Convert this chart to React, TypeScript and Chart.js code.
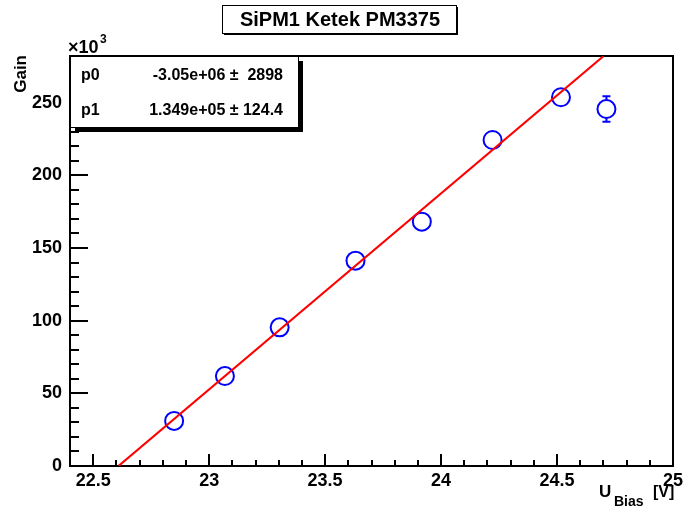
import React, { useEffect, useRef } from 'react';
import { Chart, registerables } from 'chart.js';

Chart.register(...registerables);

// ---- data ----
const biasVoltage = [22.849, 23.068, 23.304, 23.631, 23.917, 24.222, 24.517, 24.713];
const gainK = [31.0, 61.9, 95.4, 141.3, 168.1, 224.3, 253.7, 245.6];
const gainErrK = [0.4, 0.4, 0.4, 0.4, 0.4, 0.4, 0.4, 8.8];
const fitX = [22.61, 24.7];
const fitY = [0.09, 282.0];
const xTicks = [22.5, 23, 23.5, 24, 24.5, 25];
const yTicks = [0, 50, 100, 150, 200, 250];
const xMinorStep = 0.1;
const yMinorStep = 10;
const xRange = [22.4, 25];
const yRange = [0, 282.1];
const titleText = 'SiPM1 Ketek PM3375';
const statNames = ['p0', 'p1'];
const statValues = ['-3.05e+06 \u00b1  2898', '1.349e+05 \u00b1 124.4'];

const FONT = '"Liberation Sans", Arial, Helvetica, sans-serif';

const rootPlugin = {
  id: 'rootStyle',
  beforeDraw(chart: any) {
    const ctx = chart.ctx;
    ctx.save();
    ctx.fillStyle = '#ffffff';
    ctx.fillRect(0, 0, chart.width, chart.height);
    ctx.restore();
  },
  beforeDatasetsDraw(chart: any) {
    const ctx = chart.ctx;
    const { left, right, top, bottom } = chart.chartArea;
    const xs = chart.scales.x;
    const ys = chart.scales.y;
    ctx.save();
    ctx.strokeStyle = '#000';
    ctx.lineWidth = 2;
    for (let i = Math.ceil(xs.min / xMinorStep - 1e-6); i * xMinorStep <= xs.max + 1e-6; i++) {
      const v = i * xMinorStep;
      const isMajor = xTicks.some((t) => Math.abs(t - v) < 1e-6);
      const px = Math.round(xs.getPixelForValue(v));
      const len = isMajor ? 12 : 6;
      ctx.beginPath();
      ctx.moveTo(px, bottom);
      ctx.lineTo(px, bottom - len);
      ctx.stroke();
    }
    for (let i = Math.ceil(ys.min / yMinorStep); i * yMinorStep <= ys.max + 1e-6; i++) {
      const v = i * yMinorStep;
      const isMajor = yTicks.some((t) => Math.abs(t - v) < 1e-6);
      const py = Math.round(ys.getPixelForValue(v));
      const len = isMajor ? 18 : 9;
      ctx.beginPath();
      ctx.moveTo(left, py);
      ctx.lineTo(left + len, py);
      ctx.stroke();
    }
    ctx.strokeRect(left, top, right - left, bottom - top);

    ctx.strokeStyle = 'rgb(0,0,255)';
    ctx.lineWidth = 2;
    const r = 9;
    for (let i = 0; i < biasVoltage.length; i++) {
      const px = xs.getPixelForValue(biasVoltage[i]);
      const py = ys.getPixelForValue(gainK[i]);
      const pHi = ys.getPixelForValue(gainK[i] + gainErrK[i]);
      const pLo = ys.getPixelForValue(gainK[i] - gainErrK[i]);
      if (py - pHi > r + 1) {
        ctx.beginPath();
        ctx.moveTo(px, pHi);
        ctx.lineTo(px, py - r);
        ctx.moveTo(px, py + r);
        ctx.lineTo(px, pLo);
        ctx.moveTo(px - 4, pHi);
        ctx.lineTo(px + 4, pHi);
        ctx.moveTo(px - 4, pLo);
        ctx.lineTo(px + 4, pLo);
        ctx.stroke();
      }
    }
    ctx.restore();
  },
  afterDraw(chart: any) {
    const ctx = chart.ctx;
    ctx.save();

    const tx0 = 222, ty0 = 5, tw = 234, th = 28;
    ctx.fillStyle = '#000';
    ctx.fillRect(tx0 + 2, ty0 + 2, tw, th);
    ctx.fillStyle = '#fff';
    ctx.fillRect(tx0, ty0, tw, th);
    ctx.strokeStyle = '#000';
    ctx.lineWidth = 1;
    ctx.strokeRect(tx0 + 0.5, ty0 + 0.5, tw, th);
    ctx.fillStyle = '#000';
    ctx.font = `bold 20px ${FONT}`;
    ctx.textAlign = 'center';
    ctx.textBaseline = 'middle';
    ctx.fillText(titleText, tx0 + tw / 2 + 1, ty0 + th / 2 + 1);

    const sx0 = 70, sy0 = 56, sw = 228, sh = 71;
    ctx.fillStyle = '#000';
    ctx.fillRect(sx0 + 5, sy0 + 5, sw, sh);
    ctx.fillStyle = '#fff';
    ctx.fillRect(sx0, sy0, sw, sh);
    ctx.strokeStyle = '#000';
    ctx.lineWidth = 1;
    ctx.strokeRect(sx0 + 0.5, sy0 + 0.5, sw, sh);
    ctx.fillStyle = '#000';
    ctx.font = `bold 16px ${FONT}`;
    ctx.textBaseline = 'middle';
    const rowsY = [76, 111];
    for (let i = 0; i < statNames.length; i++) {
      ctx.textAlign = 'left';
      ctx.fillText(statNames[i], 81, rowsY[i]);
      ctx.textAlign = 'right';
      ctx.fillText(statValues[i], 283, rowsY[i]);
    }

    ctx.save();
    ctx.translate(21, 55);
    ctx.rotate(-Math.PI / 2);
    ctx.font = `bold 17px ${FONT}`;
    ctx.textAlign = 'right';
    ctx.textBaseline = 'middle';
    ctx.fillText('Gain', 0, 0);
    ctx.restore();

    ctx.textAlign = 'left';
    ctx.textBaseline = 'alphabetic';
    ctx.font = `bold 18px ${FONT}`;
    ctx.fillText('\u00d710', 68, 53);
    ctx.font = `bold 12px ${FONT}`;
    ctx.fillText('3', 100, 43);

    ctx.font = `bold 17px ${FONT}`;
    ctx.fillText('U', 599, 497);
    ctx.font = `bold 14px ${FONT}`;
    ctx.fillText('Bias', 614, 506);
    ctx.font = `bold 16px ${FONT}`;
    ctx.fillText('[V]', 653, 497);

    ctx.restore();
  },
};

export default function App() {
  const canvasRef = useRef<HTMLCanvasElement | null>(null);

  useEffect(() => {
    document.body.style.margin = '0';
    const canvas = canvasRef.current;
    if (!canvas) return;

    const points = biasVoltage.map((x, i) => ({ x, y: gainK[i] }));
    const fitPoints = fitX.map((x, i) => ({ x, y: fitY[i] }));

    const chart = new Chart(canvas, {
      type: 'scatter',
      data: {
        datasets: [
          {
            label: 'fit',
            data: fitPoints,
            showLine: true,
            borderColor: 'rgb(255,0,0)',
            borderWidth: 2,
            pointRadius: 0,
            fill: false,
          } as any,
          {
            label: 'Gain',
            data: points,
            pointStyle: 'circle',
            pointRadius: 9,
            pointBorderWidth: 2,
            pointBorderColor: 'rgb(0,0,255)',
            pointBackgroundColor: 'rgba(0,0,0,0)',
            showLine: false,
          } as any,
        ],
      },
      options: {
        animation: false,
        responsive: false,
        devicePixelRatio: 1,
        layout: { padding: { left: 0, right: 7, top: 56, bottom: 0 } },
        plugins: {
          legend: { display: false },
          title: { display: false },
          tooltip: { enabled: false },
        },
        scales: {
          x: {
            type: 'linear',
            min: xRange[0],
            max: xRange[1],
            grid: { display: false, drawTicks: false },
            border: { display: false },
            afterBuildTicks: (scale: any) => {
              scale.ticks = xTicks.map((v) => ({ value: v }));
            },
            afterFit: (scale: any) => {
              scale.height = 46;
              scale.paddingLeft = 0;
              scale.paddingRight = 0;
            },
            ticks: {
              padding: 4,
              maxRotation: 0,
              autoSkip: false,
              color: '#000',
              font: { family: FONT, size: 18, weight: 'bold' },
              callback: (v: any) => String(v),
            },
          },
          y: {
            type: 'linear',
            min: yRange[0],
            max: yRange[1],
            grid: { display: false, drawTicks: false },
            border: { display: false },
            afterBuildTicks: (scale: any) => {
              scale.ticks = yTicks.map((v) => ({ value: v }));
            },
            afterFit: (scale: any) => {
              scale.width = 70;
              scale.paddingTop = 0;
              scale.paddingBottom = 0;
            },
            ticks: {
              padding: 8,
              autoSkip: false,
              color: '#000',
              font: { family: FONT, size: 18, weight: 'bold' },
              callback: (v: any) => String(v),
            },
          },
        },
      },
      plugins: [rootPlugin],
    } as any);

    return () => chart.destroy();
  }, []);

  return (
    <div style={{ width: 684, height: 512 }}>
      <canvas ref={canvasRef} width={684} height={512} style={{ display: 'block' }} />
    </div>
  );
}
